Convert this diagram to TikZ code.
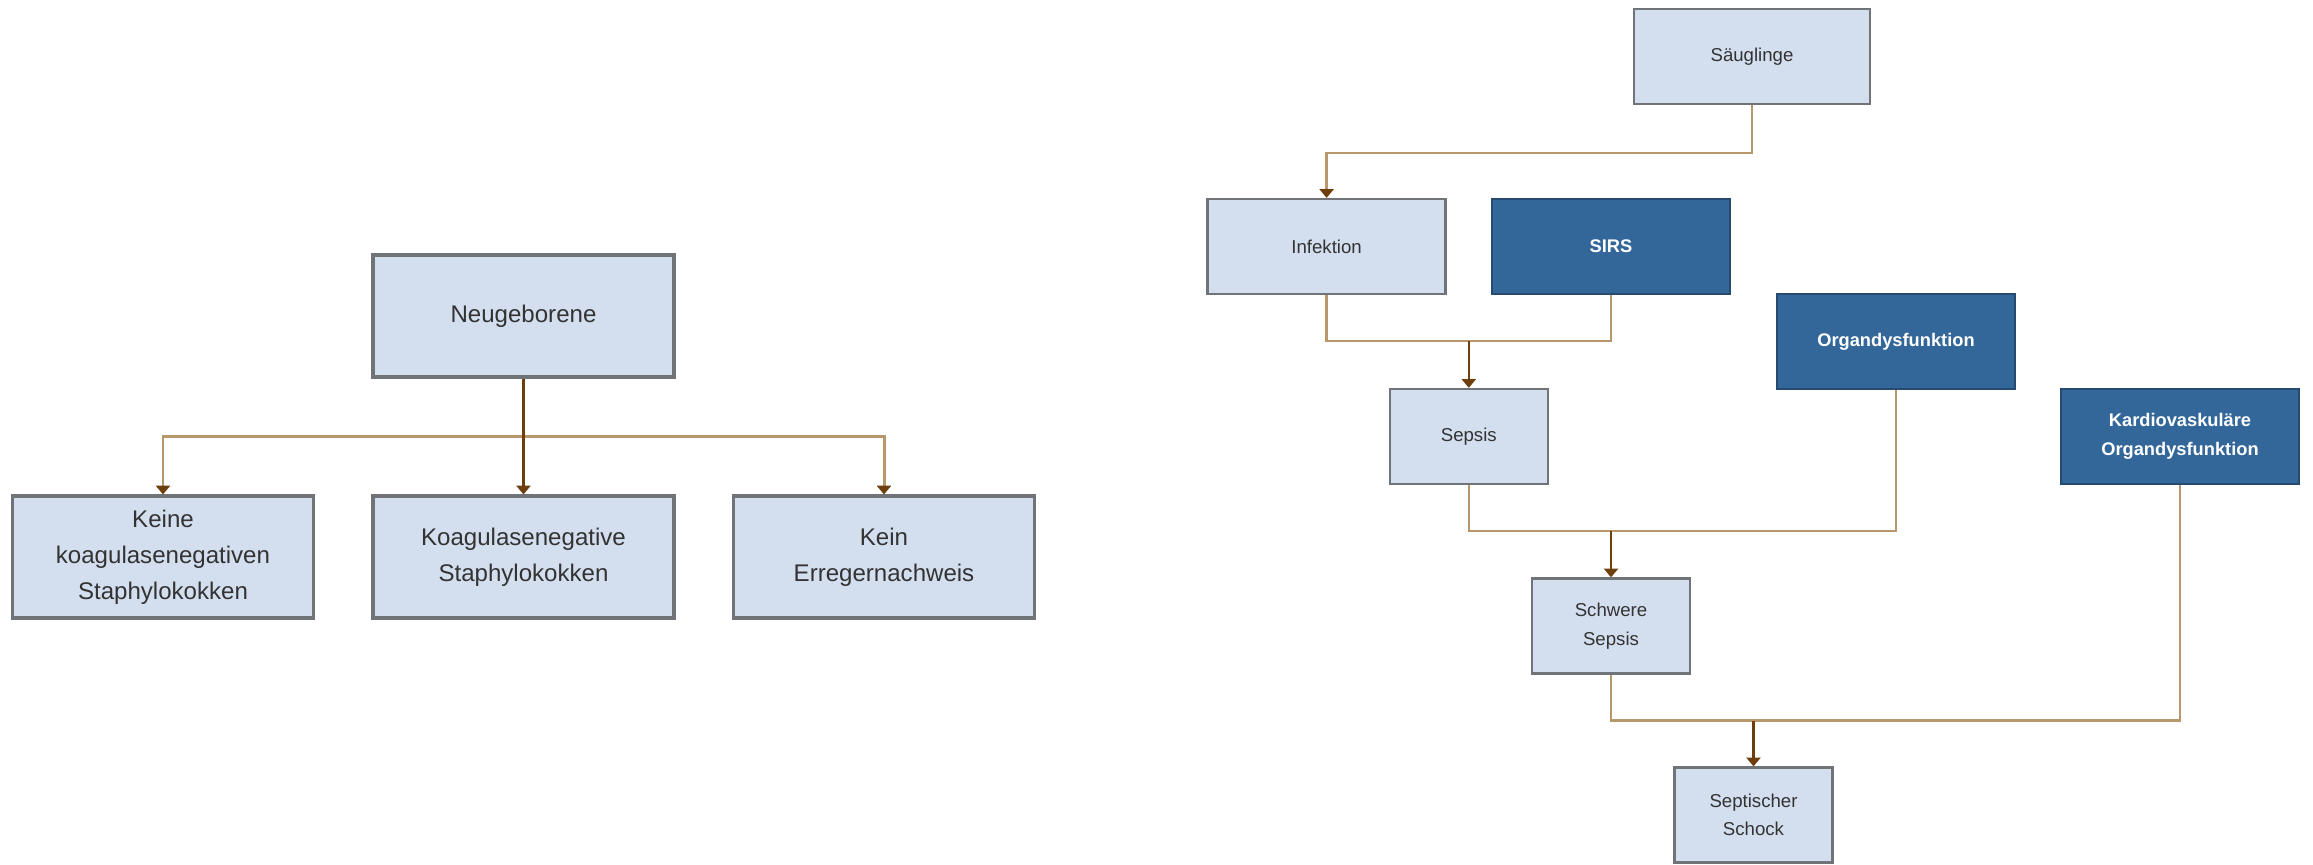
\documentclass[tikz,border=0pt]{standalone}
\usepackage{fontspec}
\setmainfont{Liberation Sans}
\usetikzlibrary{arrows.meta}

\definecolor{boxfill}{HTML}{D3DEEE}
\definecolor{boxline}{HTML}{707378}
\definecolor{darkfill}{HTML}{336699}
\definecolor{darkline}{HTML}{264A70}
\definecolor{feedcol}{HTML}{B8976C}
\definecolor{stemcol}{HTML}{6E3F0C}

\tikzset{
	bigbox/.style={draw=boxline, fill=boxfill, line width=1.8pt, minimum width=6.02cm, minimum height=2.44cm, align=center, text=black!80, font=\fontsize{13.7}{20.5}\selectfont},
	widebox/.style={draw=boxline, fill=boxfill, line width=1.3pt, minimum width=4.76cm, minimum height=1.9cm, align=center, text=black!80, font=\fontsize{10.6}{16.2}\selectfont},
	smallbox/.style={widebox, minimum width=3.16cm},
	darkbox/.style={widebox, draw=darkline, fill=darkfill, text=white, font=\bfseries\fontsize{10.4}{16.2}\selectfont},
	feed/.style={draw=feedcol, line width=1.4pt, -{Triangle[color=stemcol, length=5pt, width=8pt]}},
	stem/.style={draw=stemcol, line width=1.4pt, -{Triangle[color=stemcol, length=5pt, width=8pt]}},
	plain/.style={draw=feedcol, line width=1.4pt}
}

\begin{document}
\begin{tikzpicture}[x=0.02cm, y=-0.02cm]
		\useasboundingbox (0,0) rectangle (2313,865);
		% Neugeborene
		\node[bigbox] (neu) at (523.5,316) {Neugeborene};
		\node[bigbox] (keine) at (163,557) {Keine\\koagulasenegativen\\Staphylokokken};
		\node[bigbox] (koag) at (523.5,557) {Koagulasenegative\\Staphylokokken};
		\node[bigbox] (kein) at (884,557) {Kein\\Erregernachweis};
		\coordinate (bar) at (523.5,436.7);
		\draw[feed, line width=1.7pt] (bar) -| (keine.north);
		\draw[feed, line width=1.7pt] (bar) -| (kein.north);
		\draw[stem, line width=1.7pt] (neu.south) -- (koag.north);
		% Saeuglinge
		\node[widebox, minimum width=4.72cm] (saug) at (1752,56.5) {Säuglinge};
		\node[widebox] (inf) at (1326.6,246.5) {Infektion};
		\node[darkbox] (sirs) at (1611,246.5) {SIRS};
		\node[smallbox] (sepsis) at (1468.8,436.5) {Sepsis};
		\node[darkbox] (organ) at (1896,341.5) {Organdysfunktion};
		\node[darkbox] (kardio) at (2180,436.5) {Kardiovaskuläre\\Organdysfunktion};
		\node[smallbox] (schwer) at (1611,626) {Schwere\\Sepsis};
		\node[smallbox] (schock) at (1753.5,815) {Septischer\\Schock};
		\coordinate (j1) at (1468.8,341);
		\coordinate (j2) at (1611,531);
		\coordinate (j3) at (1753.5,720.7);
		\draw[feed] (saug.south) -- ++(0,47.7) -| (inf.north);
		\draw[plain] (inf.south) |- (sirs.south |- j1) -- (sirs.south);
		\draw[stem] (j1) -- (sepsis.north);
		\draw[plain] (sepsis.south) |- (organ.south |- j2) -- (organ.south);
		\draw[stem] (j2) -- (schwer.north);
		\draw[plain] (schwer.south) |- (kardio.south |- j3) -- (kardio.south);
		\draw[stem] (j3) -- (schock.north);
	\end{tikzpicture}
\end{document}
